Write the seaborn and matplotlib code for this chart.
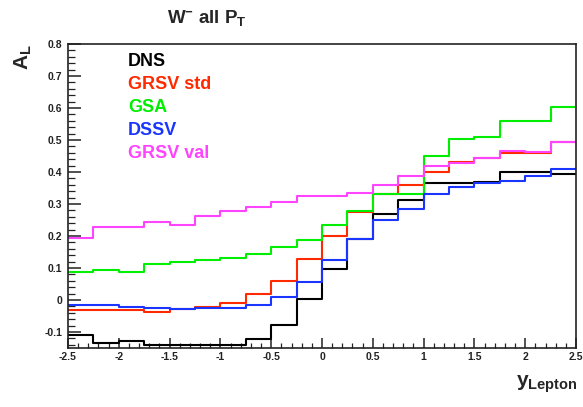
import numpy as np
import pandas as pd
import seaborn as sns
import matplotlib
matplotlib.use("Agg")
import matplotlib.pyplot as plt
from matplotlib.ticker import MultipleLocator

# bin edges in lepton rapidity (20 bins)
edges = [-2.5, -2.25, -2.0, -1.75, -1.5, -1.25, -1.0, -0.75, -0.5, -0.25, 0.0,
         0.25, 0.5, 0.75, 1.0, 1.25, 1.5, 1.75, 2.0, 2.25, 2.5]

models = ["DNS", "GRSV std", "GSA", "DSSV", "GRSV val"]
colors = ["#000000", "#ff2a00", "#00ee00", "#1a35ff", "#ff44ff"]

dns = [-0.109, -0.135, -0.129, -0.14, -0.14, -0.14, -0.14, -0.123, -0.078, 0.002,
       0.096, 0.19, 0.268, 0.3125, 0.365, 0.365, 0.37, 0.399, 0.399, 0.394]
grsv_std = [-0.032, -0.032, -0.032, -0.039, -0.028, -0.021, -0.010, 0.018, 0.058, 0.127,
            0.2, 0.274, 0.33, 0.358, 0.401, 0.43, 0.445, 0.458, 0.458, 0.495]
gsa = [0.0865, 0.093, 0.0865, 0.111, 0.118, 0.125, 0.131, 0.143, 0.165, 0.1875,
       0.234, 0.278, 0.33, 0.33, 0.45, 0.502, 0.51, 0.558, 0.558, 0.602]
dssv = [-0.0156, -0.0156, -0.021, -0.026, -0.028, -0.026, -0.026, -0.016, 0.008, 0.057,
        0.125, 0.19, 0.25, 0.284, 0.33, 0.354, 0.367, 0.372, 0.3875, 0.409]
grsv_val = [0.195, 0.227, 0.227, 0.245, 0.234, 0.2625, 0.279, 0.29, 0.306, 0.325,
            0.325, 0.335, 0.358, 0.3875, 0.42, 0.427, 0.445, 0.465, 0.461, 0.495]

series = [dns, grsv_std, gsa, dssv, grsv_val]

rows = []
for name, vals in zip(models, series):
    yy = list(vals) + [vals[-1]]  # repeat last bin for the step
    for x, v in zip(edges, yy):
        rows.append({"ylep": x, "AL": v, "model": name})
df = pd.DataFrame(rows)

sns.set_style("white")
plt.rcParams["font.family"] = ["Liberation Sans", "DejaVu Sans"]
plt.rcParams["font.weight"] = "bold"
plt.rcParams["mathtext.fontset"] = "custom"
plt.rcParams["mathtext.rm"] = "Liberation Sans:bold"
plt.rcParams["mathtext.it"] = "Liberation Sans:bold"
plt.rcParams["mathtext.bf"] = "Liberation Sans:bold"

fig = plt.figure(figsize=(5.83, 4.07), dpi=100)
ax = fig.add_axes([68 / 583, 59 / 407, 508 / 583, 304 / 407])

sns.lineplot(data=df, x="ylep", y="AL", hue="model", hue_order=models,
             palette=colors, drawstyle="steps-post", estimator=None, sort=False,
             linewidth=1.5, legend=False, ax=ax)

ax.set_xlim(-2.5, 2.5)
ax.set_ylim(-0.15, 0.8)
ax.set_xlabel("")
ax.set_ylabel("")

ax.xaxis.set_major_locator(MultipleLocator(0.5))
ax.xaxis.set_minor_locator(MultipleLocator(0.1))
ax.yaxis.set_major_locator(MultipleLocator(0.1))
ax.yaxis.set_minor_locator(MultipleLocator(0.02))
ax.xaxis.set_major_formatter(matplotlib.ticker.FuncFormatter(lambda v, p: f"{v:g}"))
ax.yaxis.set_major_formatter(matplotlib.ticker.FuncFormatter(lambda v, p: f"{v:g}"))

ax.tick_params(which="both", bottom=True, left=True, top=False, right=False)
ax.tick_params(axis="y", which="major", direction="in", length=9, width=1.1,
               labelsize=7.5, pad=4, color="#222222", labelcolor="#222222")
ax.tick_params(axis="y", which="minor", direction="in", length=5, width=0.9,
               color="#222222")
ax.tick_params(axis="x", which="major", direction="in", length=7, width=1.1,
               labelsize=7.5, pad=3, color="#222222", labelcolor="#222222")
ax.tick_params(axis="x", which="minor", direction="in", length=3.5, width=0.9,
               color="#222222")
for lab in ax.get_xticklabels() + ax.get_yticklabels():
    lab.set_fontweight("bold")

for sp in ax.spines.values():
    sp.set_visible(True)
    sp.set_color("#222222")
    sp.set_linewidth(1.2)

# coloured model labels
label_y = [0.941, 0.866, 0.790, 0.715, 0.640]
for name, c, yy in zip(models, colors, label_y):
    ax.text(0.118, yy, name, color=c, transform=ax.transAxes, fontsize=13,
            fontweight="bold", va="center", ha="left")

fig.text(167 / 583, 0.955, r"W$^{-}$ all P$_{T}$", fontsize=13.5,
         fontweight="bold", va="center", ha="left")
fig.text(0.040, 0.86, r"A$_{L}$", fontsize=15, fontweight="bold",
         rotation=90, va="center", ha="center")
fig.text(0.99, 0.055, r"y$_{Lepton}$", fontsize=15, fontweight="bold",
         va="center", ha="right")

fig.savefig("out.png", dpi=100)
